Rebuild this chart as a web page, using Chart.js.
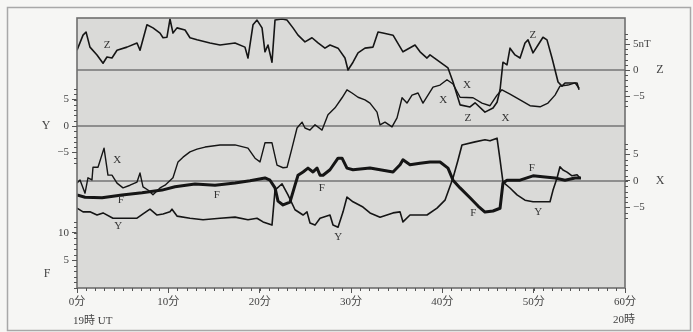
<!DOCTYPE html>
<html><head><meta charset="utf-8">
<script src="https://cdn.jsdelivr.net/npm/chart.js@4"></script>
<style>html,body{margin:0;padding:0;background:#f6f6f4;}</style>
</head><body>
<canvas id="c" width="693" height="332" style="display:block;width:693px;height:332px"></canvas>
<script>
// ---- data (minutes after 19h UT, nT) ----
const seriesZ = [[0,3.8],[0.66,6.7],[0.99,7.3],[1.42,4.4],[2.19,2.9],[2.85,1.3],[3.28,2.5],[3.83,2.3],[4.38,3.8],[5.47,4.4],[6.57,5.2],[6.90,3.8],[7.66,8.7],[8.32,8.1],[9.09,7.1],[9.42,6.2],[9.85,6.3],[10.18,9.8],[10.51,7.1],[10.95,8.1],[11.83,7.7],[12.37,6.2],[13.14,5.8],[14.56,5.2],[15.66,4.8],[17.30,5.2],[18.39,4.4],[18.72,2.3],[19.27,8.7],[19.71,9.6],[20.26,8.1],[20.58,3.5],[20.91,4.8],[21.35,1.5],[21.68,9.6],[22.45,9.8],[22.99,9.6],[23.65,8.1],[24.20,6.7],[24.96,5.4],[25.73,6.2],[26.39,5.2],[27.15,4.2],[27.70,4.8],[28.58,4.2],[29.34,2.3],[29.67,0.0],[30.22,1.5],[30.77,3.3],[31.53,4.2],[32.41,4.4],[32.96,7.3],[33.50,7.1],[34.60,6.7],[35.69,3.5],[37.01,4.8],[37.56,3.5],[38.32,2.3],[38.65,2.9],[39.75,1.5],[40.62,0.4],[41.17,-2.3],[41.94,-6.7],[43.03,-7.1],[43.58,-6.3],[44.67,-8.1],[45.55,-7.3],[45.99,-6.2],[46.32,-3.8],[46.64,1.5],[47.08,1.0],[47.41,4.2],[47.96,2.9],[48.51,2.3],[49.05,5.2],[49.38,5.8],[49.93,3.3],[50.48,4.8],[51.02,6.3],[51.46,5.8],[52.01,2.3],[52.34,0],[52.67,-2.3],[53.10,-3.1],[53.43,-2.5],[54.20,-2.5],[54.75,-2.5],[54.97,-3.8]];
const seriesX = [[0,-0.4],[0.33,0.2],[0.88,-2.3],[1.20,0.6],[1.64,0.2],[1.75,2.6],[2.30,2.6],[2.96,6.2],[3.39,1.1],[3.83,1.1],[4.38,-0.4],[5.04,-1.3],[5.80,-0.8],[6.57,-0.2],[6.90,1.5],[7.23,-1.1],[7.77,-1.7],[8.32,-2.6],[9.09,-1.3],[9.64,-0.8],[10.51,0.6],[11.06,3.6],[11.61,4.5],[12.37,5.5],[13.14,6.0],[14.02,6.4],[15.66,6.8],[17.30,6.8],[18.72,6.2],[19.49,4.3],[20.04,3.6],[20.58,7.2],[21.35,7.2],[21.90,3.0],[22.56,2.5],[23.0,2.6],[23.54,6.2],[24.09,10.0],[24.64,11.1],[24.96,10.0],[25.51,9.6],[26.06,10.6],[26.83,9.6],[27.48,12.5],[28.25,13.8],[29.02,15.7],[29.56,17.2],[30.11,16.6],[30.77,15.8],[31.53,15.3],[32.08,14.7],[32.85,13.0],[33.18,10.6],[33.72,11.1],[34.49,10.2],[35.04,11.9],[35.59,15.7],[36.13,14.7],[36.68,16.2],[37.34,16.6],[37.88,14.7],[38.43,16.2],[38.98,17.7],[39.75,18.1],[40.51,19.1],[41.17,18.3],[41.94,15.8],[43.36,15.7],[44.34,14.7],[45.22,14.2],[45.99,16.2],[46.53,17.2],[47.41,16.4],[48.51,15.3],[49.60,14.2],[50.70,14.0],[51.57,14.7],[52.34,16.2],[52.88,17.9],[53.76,18.1],[54.53,18.5],[54.97,17.5]];
const seriesY = [[0,-15.5],[0.66,-16.2],[1.42,-16.2],[2.19,-16.8],[2.85,-16.4],[3.94,-17.4],[5.26,-17.4],[6.57,-17.4],[7.23,-16.6],[7.99,-15.7],[8.76,-16.8],[9.42,-16.6],[10.18,-16.2],[10.40,-15.7],[10.95,-17.0],[12.37,-17.4],[13.80,-17.7],[15.66,-17.4],[17.30,-17.2],[18.72,-17.7],[19.71,-17.4],[20.37,-18.1],[21.35,-18.7],[21.68,-12.1],[22.45,-10.9],[23.10,-13.0],[23.87,-15.8],[24.75,-16.8],[25.18,-16.2],[25.51,-18.3],[26.06,-18.7],[26.61,-17.4],[27.70,-16.8],[28.03,-18.7],[28.58,-19.1],[29.13,-16.2],[29.56,-13.4],[30.22,-14.3],[31.31,-15.3],[32.08,-16.4],[33.18,-17.2],[34.60,-16.4],[35.37,-16.2],[35.69,-18.1],[36.46,-16.8],[38.32,-16.8],[39.42,-15.5],[40.29,-14.0],[41.17,-9.8],[41.72,-6.4],[42.15,-3.6],[43.58,-3.0],[44.67,-2.6],[45.22,-2.8],[45.99,-2.3],[46.32,-6.4],[46.64,-10.6],[47.41,-11.7],[48.18,-13.0],[49.05,-14.0],[49.93,-14.3],[51.79,-14.3],[52.12,-12.1],[52.56,-9.8],[52.88,-7.7],[53.21,-8.3],[53.65,-8.7],[54.20,-9.4],[54.75,-9.2],[55.07,-9.8]];
const seriesF = [[0,16.9],[0.88,16.5],[2.74,16.4],[4.93,16.9],[7.12,17.3],[9.31,17.8],[10.73,18.4],[12.92,18.9],[15.11,18.7],[17.30,19.1],[18.94,19.5],[20.58,20.0],[21.13,19.6],[21.68,18.2],[22.01,15.8],[22.56,15.1],[23.32,15.6],[23.87,18.7],[24.20,20.5],[24.75,21.1],[25.29,21.8],[25.84,21.1],[26.28,21.8],[26.61,20.5],[26.94,20.5],[27.70,21.5],[28.58,23.6],[29.02,23.6],[29.56,21.8],[30.22,21.5],[32.08,21.8],[33.18,21.5],[34.60,21.1],[35.37,22.4],[35.69,23.3],[36.46,22.4],[37.56,22.7],[38.65,22.9],[39.75,22.9],[40.62,21.8],[41.17,19.6],[41.94,18.2],[43.03,16.4],[43.91,14.9],[44.67,13.8],[45.55,14.0],[46.32,14.5],[46.64,19.1],[47.08,19.6],[48.51,19.6],[49.93,20.4],[51.24,20.2],[52.34,20.0],[53.43,19.6],[54.53,20.0],[55.18,20.0]];

// tick labels
const xTickValues = [0,10,20,30,40,50,60];
const xTickLabels = ['0分','10分','20分','30分','40分','50分','60分'];
const yTickValues = [-5,0,5];
const yTickLabels = ['−5','0','5'];
const fTickValues = [5,10];
const fTickLabels = ['5','10'];
const xCompTickValues = [-5,0,5];
const xCompTickLabels = ['−5','0','5'];
const zTickValues = [-5,0,5];
const zTickLabels = ['−5','0','5nT'];
const startLabel = '19時 UT';
const endLabel = '20時';

// curve name labels placed at (minute, value) on each component's scale
const labelsZ = [[3.3,4.8],[49.9,6.7],[42.8,-9.2]];
const labelsX = [[4.4,4.0],[40.1,15.3],[42.7,18.1],[46.9,11.9]];
const labelsF = [[4.8,16.0],[15.3,16.9],[26.8,18.2],[43.4,13.6],[49.8,21.8]];
const labelsY = [[4.5,-18.9],[28.6,-20.9],[50.5,-16.2]];

// ---- scale ranges (each component offset in its own band) ----
const R = {
  yF: [0, 49.09],
  yY: [-30.57, 20.38],
  yX: [-20.19, 30.75],
  yZ: [-41.92, 10.0]
};
function conv(v, a, b){ return b[0] + (v - a[0]) / (a[1] - a[0]) * (b[1] - b[0]); }

const leftTicks = fTickValues.map((v,i)=>({value:v,label:fTickLabels[i]}))
  .concat(yTickValues.map((v,i)=>({value:conv(v,R.yY,R.yF),label:yTickLabels[i]})))
  .sort((a,b)=>a.value-b.value);
const rightTicks = xCompTickValues.map((v,i)=>({value:v,label:xCompTickLabels[i]}))
  .concat(zTickValues.map((v,i)=>({value:conv(v,R.yZ,R.yX),label:zTickLabels[i]})))
  .sort((a,b)=>a.value-b.value);

const SERIF = "'Liberation Serif','Noto Sans CJK JP',serif";
const TXT = '#444';
const INK = '#151515';

const pts = s => s.map(p=>({x:p[0], y:p[1]}));

const decor = {
  id:'decor',
  beforeDraw(chart){
    const {ctx, chartArea:a} = chart;
    ctx.save();
    ctx.fillStyle = '#f6f6f4';
    ctx.fillRect(0,0,chart.width,chart.height);
    ctx.strokeStyle = '#a8a8a8'; ctx.lineWidth = 1.5;
    ctx.strokeRect(7.5,7.5,683,323);
    ctx.fillStyle = '#dadad8';
    ctx.fillRect(a.left,a.top,a.right-a.left,a.bottom-a.top);
    ctx.restore();
  },
  beforeDatasetsDraw(chart){
    const {ctx, chartArea:a, scales:s} = chart;
    ctx.save();
    ctx.strokeStyle = '#8e8e8e'; ctx.lineWidth = 2;
    ['yZ','yY','yX'].forEach(id=>{
      const y = Math.round(s[id].getPixelForValue(0));
      ctx.beginPath(); ctx.moveTo(a.left,y); ctx.lineTo(a.right,y); ctx.stroke();
    });
    ctx.restore();
  },
  afterDraw(chart){
    const {ctx, chartArea:a, scales:s} = chart;
    ctx.save();
    // frame
    ctx.strokeStyle = '#6e6e6e'; ctx.lineWidth = 1.6;
    ctx.strokeRect(a.left,a.top,a.right-a.left,a.bottom-a.top);
    // minor ticks
    ctx.strokeStyle = '#555'; ctx.lineWidth = 1;
    ctx.beginPath();
    for(let m=0;m<=60;m++){ const x=Math.round(s.x.getPixelForValue(m))+0.5; ctx.moveTo(x,a.bottom); ctx.lineTo(x,a.bottom+3); }
    for(let v=-7;v<=7;v++){ const y=Math.round(s.yY.getPixelForValue(v))+0.5; ctx.moveTo(a.left-3,y); ctx.lineTo(a.left,y); }
    for(let v=0;v<=12;v++){ const y=Math.round(s.yF.getPixelForValue(v))+0.5; ctx.moveTo(a.left-3,y); ctx.lineTo(a.left,y); }
    for(let v=-7;v<=7;v++){ const y=Math.round(s.yZ.getPixelForValue(v))+0.5; ctx.moveTo(a.right,y); ctx.lineTo(a.right+3,y); }
    for(let v=-7;v<=7;v++){ const y=Math.round(s.yX.getPixelForValue(v))+0.5; ctx.moveTo(a.right,y); ctx.lineTo(a.right+3,y); }
    ctx.stroke();
    // axis titles
    ctx.fillStyle = TXT;
    ctx.font = '12px ' + SERIF;
    ctx.textAlign = 'center'; ctx.textBaseline = 'middle';
    ctx.fillText('Y', 46, s.yY.getPixelForValue(0));
    ctx.fillText('F', 47, s.yF.getPixelForValue(2.5));
    ctx.fillText('Z', 660, s.yZ.getPixelForValue(0));
    ctx.fillText('X', 660, s.yX.getPixelForValue(0));
    // hour labels
    ctx.font = '11px ' + SERIF;
    ctx.textAlign = 'left';
    ctx.fillText(startLabel, a.left - 4, 321);
    ctx.fillText(endLabel, a.right - 12, 320);
    // curve labels
    ctx.fillStyle = '#333';
    ctx.font = '11px ' + SERIF;
    ctx.textAlign = 'center';
    const put = (list, id, t) => list.forEach(p=>ctx.fillText(t, s.x.getPixelForValue(p[0]), s[id].getPixelForValue(p[1])));
    put(labelsZ,'yZ','Z'); put(labelsX,'yX','X'); put(labelsF,'yF','F'); put(labelsY,'yY','Y');
    ctx.restore();
  }
};

const line = (label, data, axis, w) => ({label, data: pts(data), yAxisID: axis, borderColor: INK, borderWidth: w, pointRadius: 0, tension: 0, fill: false, borderJoinStyle: 'round'});

new Chart(document.getElementById('c'), {
  type: 'line',
  data: { datasets: [
    line('Z', seriesZ, 'yZ', 1.6),
    line('X', seriesX, 'yX', 1.4),
    line('Y', seriesY, 'yY', 1.6),
    line('F', seriesF, 'yF', 3)
  ]},
  options: {
    responsive: false, animation: false, devicePixelRatio: 1,
    layout: { padding: { top: 18, left: 0, right: 0, bottom: 0 } },
    plugins: { legend: { display: false }, tooltip: { enabled: false } },
    scales: {
      x: {
        type: 'linear', position: 'bottom', min: 0, max: 60,
        afterBuildTicks: sc => { sc.ticks = xTickValues.map(v=>({value:v})); },
        afterFit: sc => { sc.height = 44; },
        ticks: { autoSkip: false, maxRotation: 0, padding: 3, color: TXT, font: { family: SERIF, size: 11 },
                 callback: (v,i) => xTickLabels[i] },
        grid: { drawOnChartArea: false, tickLength: 5, color: '#555' },
        border: { display: false }
      },
      yF: {
        type: 'linear', position: 'left', min: R.yF[0], max: R.yF[1],
        afterBuildTicks: sc => { sc.ticks = leftTicks.map(o=>({value:o.value})); },
        afterFit: sc => { sc.width = 77; },
        ticks: { autoSkip: false, padding: 3, color: TXT, font: { family: SERIF, size: 11 },
                 callback: (v,i) => leftTicks[i].label },
        grid: { drawOnChartArea: false, tickLength: 5, color: '#555' },
        border: { display: false }
      },
      yX: {
        type: 'linear', position: 'right', min: R.yX[0], max: R.yX[1],
        afterBuildTicks: sc => { sc.ticks = rightTicks.map(o=>({value:o.value})); },
        afterFit: sc => { sc.width = 68; },
        ticks: { autoSkip: false, padding: 3, color: TXT, font: { family: SERIF, size: 11 },
                 callback: (v,i) => rightTicks[i].label },
        grid: { drawOnChartArea: false, tickLength: 5, color: '#555' },
        border: { display: false }
      },
      yY: { type: 'linear', display: false, min: R.yY[0], max: R.yY[1] },
      yZ: { type: 'linear', display: false, min: R.yZ[0], max: R.yZ[1] }
    }
  },
  plugins: [decor]
});
</script>
</body></html>
